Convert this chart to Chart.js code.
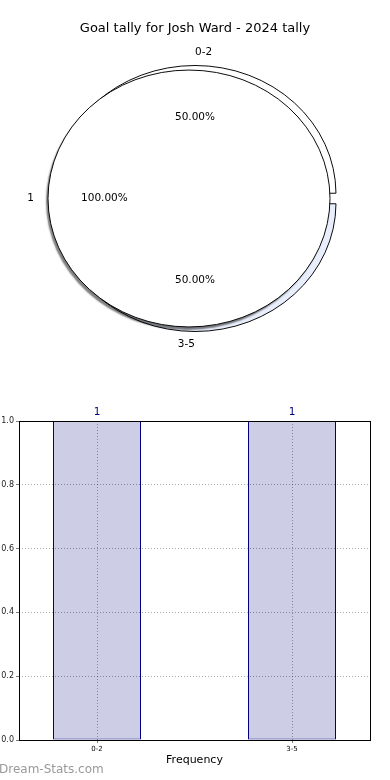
<!DOCTYPE html>
<html>
<head>
<meta charset="utf-8">
<script src="https://cdn.jsdelivr.net/npm/chart.js@4.4.0/dist/chart.umd.min.js"></script>
<style>
body { margin: 0; background: #fff; font-family: "DejaVu Sans", sans-serif; }
#wrap { position: relative; width: 390px; height: 780px; overflow: hidden; }
canvas { position: absolute; left: 0; }
#title { position: absolute; top: 20px; left: 0; width: 390px; text-align: center; font-size: 13px; color: #000; }
#mark { position: absolute; left: -1px; top: 762px; font-size: 12px; color: #999; }
</style>
</head>
<body>
<div id="wrap">
  <canvas id="ringChart" width="390" height="397" style="top:0"></canvas>
  <canvas id="pieChart" width="390" height="397" style="top:0"></canvas>
  <canvas id="barChart" width="390" height="380" style="top:400px"></canvas>
  <div id="title">Goal tally for Josh Ward - 2024 tally</div>
  <div id="mark">Dream-Stats.com</div>
</div>
<script>
// goal ranges (outer ring + bar chart)
const rangeLabels = ['0-2', '3-5'];
const rangeCounts = [1, 1];
// inner pie
const innerLabels = ['1'];
const innerCounts = [1];
// bar chart y ticks
const yTicks = [0, 0.2, 0.4, 0.6, 0.8, 1.0];

const squash = 0.911;     // pie is drawn as an ellipse
const ringOffset = 20;    // chart.js moves the arc by offset/4 and grows it by offset/4
const fontFam = '"DejaVu Sans", sans-serif';

// squash the pie vertically, optional shadow + outline for inner disk
const squashPlugin = {
    id: 'squash',
    beforeDatasetsDraw(chart, args, opts) {
        let arc = chart.getDatasetMeta(0).data[0];
        let ctx = chart.ctx;
        ctx.save();
        ctx.translate(arc.x, arc.y);
        ctx.scale(1, squash);
        ctx.translate(-arc.x, -arc.y);
        if (opts.shadow) {
            ctx.shadowColor = 'rgba(0,0,0,0.5)';
            ctx.shadowOffsetX = -2;
            ctx.shadowOffsetY = 3;
            ctx.shadowBlur = 1.5;
        }
    },
    afterDatasetsDraw(chart, args, opts) {
        let ctx = chart.ctx;
        if (opts.outline) {
            let arc = chart.getDatasetMeta(0).data[0];
            ctx.shadowColor = 'transparent';
            ctx.beginPath();
            ctx.arc(arc.x, arc.y, arc.outerRadius, 0, Math.PI * 2);
            ctx.lineWidth = 1;
            ctx.strokeStyle = '#000';
            ctx.stroke();
        }
        ctx.restore();
    }
};

function drawPieLabels(ctx, meta, labels, values, grow, shift) {
    let total = values.reduce((a, b) => a + b, 0);
    meta.data.forEach(function(arc, i) {
        let mid = (arc.startAngle + arc.endAngle) / 2;
        let r = arc.outerRadius + grow;
        let cx = arc.x + Math.cos(mid) * shift;
        let cy = arc.y + Math.sin(mid) * shift * squash;
        let ang = -mid;
        while (ang < 0) ang += Math.PI * 2;
        ctx.font = '10.5px ' + fontFam;
        ctx.fillStyle = '#000';
        ctx.textBaseline = 'middle';
        ctx.textAlign = Math.cos(ang) > 0 ? 'left' : 'right';
        ctx.fillText(labels[i], cx + Math.cos(mid) * r * 1.1, cy + Math.sin(mid) * r * 1.1 * squash);
        ctx.textAlign = 'center';
        ctx.fillText((values[i] / total * 100).toFixed(2) + '%', cx + Math.cos(mid) * r * 0.6, cy + Math.sin(mid) * r * 0.6 * squash);
    });
}

let ringChart = new Chart(document.getElementById('ringChart'), {
    type: 'pie',
    data: {
        labels: rangeLabels,
        datasets: [{
            data: rangeCounts,
            backgroundColor: ['#ffffff', '#e8eefb'],
            borderColor: '#000',
            borderWidth: 1,
            offset: ringOffset
        }]
    },
    options: {
        responsive: false,
        animation: false,
        rotation: -90,
        radius: 141 - ringOffset / 4,
        events: [],
        plugins: { legend: { display: false }, tooltip: { enabled: false }, squash: {} }
    },
    plugins: [squashPlugin]
});

let pieChart = new Chart(document.getElementById('pieChart'), {
    type: 'pie',
    data: {
        labels: innerLabels,
        datasets: [{
            data: innerCounts,
            backgroundColor: '#ffffff',
            borderWidth: 0
        }]
    },
    options: {
        responsive: false,
        animation: false,
        rotation: 90,
        radius: 141,
        events: [],
        layout: { padding: { right: 12 } },
        plugins: { legend: { display: false }, tooltip: { enabled: false }, squash: { shadow: true, outline: true } }
    },
    plugins: [squashPlugin, {
        id: 'pieLabels',
        afterDraw(chart) {
            let ctx = chart.ctx;
            ctx.save();
            drawPieLabels(ctx, ringChart.getDatasetMeta(0), rangeLabels, rangeCounts, ringOffset / 4, ringOffset / 4);
            drawPieLabels(ctx, chart.getDatasetMeta(0), innerLabels, innerCounts, 0, 0);
            ctx.restore();
        }
    }]
});

// bar chart
const boxPlugin = {
    id: 'box',
    afterDraw(chart) {
        let a = chart.chartArea;
        let ctx = chart.ctx;
        ctx.save();
        ctx.strokeStyle = '#000';
        ctx.lineWidth = 1;
        ctx.strokeRect(Math.round(a.left) + 0.5, Math.round(a.top) + 0.5, Math.round(a.right - a.left), Math.round(a.bottom - a.top));
        ctx.restore();
    }
};

const barValuePlugin = {
    id: 'barValues',
    afterDatasetsDraw(chart) {
        let ctx = chart.ctx;
        ctx.save();
        ctx.font = '10.5px ' + fontFam;
        ctx.fillStyle = '#000080';
        ctx.textAlign = 'center';
        ctx.textBaseline = 'middle';
        chart.getDatasetMeta(0).data.forEach(function(bar, i) {
            ctx.fillText(String(rangeCounts[i]), bar.x, bar.y - 9);
        });
        ctx.restore();
    }
};

let gridStyle = { color: 'rgba(0,0,0,0.35)', tickLength: 3, tickColor: 'rgba(0,0,0,0.5)', offset: false, z: 1 };

new Chart(document.getElementById('barChart'), {
    type: 'bar',
    data: {
        datasets: [{
            data: rangeLabels.map((l, i) => ({ x: i, y: rangeCounts[i] })),
            backgroundColor: '#cdcde5',
            borderColor: '#000080',
            borderWidth: 1,
            borderSkipped: false,
            barPercentage: 0.4513,
            categoryPercentage: 1
        }]
    },
    options: {
        responsive: false,
        animation: false,
        events: [],
        layout: { padding: { top: 21, right: 20, left: 0, bottom: 0 } },
        plugins: { legend: { display: false }, tooltip: { enabled: false } },
        scales: {
            x: {
                type: 'linear',
                min: -0.4,
                max: 1.4,
                offset: false,
                afterBuildTicks: s => { s.ticks = rangeLabels.map((l, i) => ({ value: i })); },
                afterFit: s => { s.height = 40; },
                ticks: { callback: v => rangeLabels[v], font: { size: 7, family: fontFam }, color: '#000', padding: 2, maxRotation: 0 },
                grid: gridStyle,
                border: { display: false, dash: [1, 2] },
                title: { display: true, text: 'Frequency', font: { size: 11, family: fontFam }, color: '#000', padding: { top: 0, bottom: 13 } }
            },
            y: {
                min: 0,
                max: 1,
                afterBuildTicks: s => { s.ticks = yTicks.map(v => ({ value: v })); },
                afterFit: s => { s.width = 19; },
                ticks: { callback: v => v.toFixed(1), font: { size: 8, family: fontFam }, color: '#222', padding: 2 },
                grid: gridStyle,
                border: { display: false, dash: [1, 2] }
            }
        }
    },
    plugins: [boxPlugin, barValuePlugin]
});
</script>
</body>
</html>
